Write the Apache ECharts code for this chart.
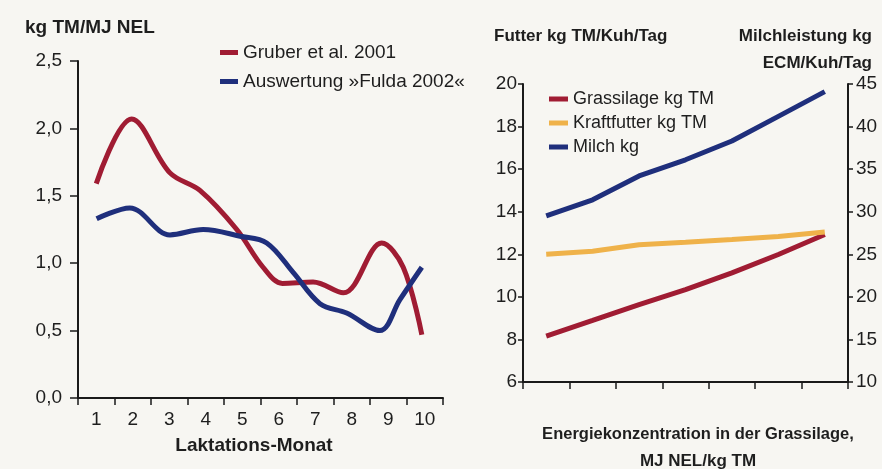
<!DOCTYPE html>
<html>
<head>
<meta charset="utf-8">
<script src="https://cdn.jsdelivr.net/npm/echarts@6/dist/echarts.min.js"></script>
<style>
html,body{margin:0;padding:0;background:#f7f6f2;}
#c{width:882px;height:469px;}
</style>
</head>
<body>
<div id="c"></div>
<script>
// ---- Left chart data ----
const months = ['1','2','3','4','5','6','7','8','9','10'];
const gruberX = [1.0, 1.97, 3.02, 3.84, 4.85, 5.57, 6.1, 6.94, 7.77, 8.82, 9.41, 9.92];
const gruberY = [1.59, 2.07, 1.67, 1.54, 1.25, 0.97, 0.85, 0.86, 0.78, 1.15, 0.97, 0.47];
const fuldaX = [1.01, 1.92, 3.02, 3.93, 4.94, 5.67, 6.4, 7.13, 7.86, 8.77, 9.32, 9.92];
const fuldaY = [1.33, 1.41, 1.21, 1.25, 1.20, 1.15, 0.93, 0.70, 0.63, 0.50, 0.73, 0.97];
const leftTicks = [0, 0.5, 1.0, 1.5, 2.0, 2.5];

// ---- Right chart data ----
const energyCats = ['1','2','3','4','5','6','7'];
const grassilage = [8.15, 8.89, 9.64, 10.34, 11.13, 11.99, 12.93];
const kraftfutter = [12.0, 12.14, 12.45, 12.56, 12.69, 12.84, 13.05];
const milch = [29.5, 31.4, 34.2, 36.1, 38.3, 41.2, 44.1];

const F = '"Liberation Sans", Arial, sans-serif';
const RED = '#a01c33', BLUE = '#1f2f7c', YEL = '#efb24a', TXT = '#1e1e1e';

const chart = echarts.init(document.getElementById('c'));
const axLine = {show:true, lineStyle:{color:'#1a1a1a', width:2}};
const tick = (len) => ({show:true, length:len, lineStyle:{color:'#1a1a1a', width:1.5}});
const lbl = (extra) => Object.assign({color:TXT, fontFamily:F, fontSize:19}, extra||{});

chart.setOption({
  backgroundColor:'#f7f6f2',
  animation:false,
  title:[
    {text:'kg TM/MJ NEL', left:20, top:13, textStyle:{fontFamily:F, fontWeight:'bold', fontSize:19, color:TXT}},
    {text:'Futter kg TM/Kuh/Tag', left:489, top:23, textStyle:{fontFamily:F, fontWeight:'bold', fontSize:17, color:TXT}},
    {text:'Milchleistung kg', right:5, top:23, textStyle:{fontFamily:F, fontWeight:'bold', fontSize:17, color:TXT}},
    {text:'ECM/Kuh/Tag', right:5, top:50, textStyle:{fontFamily:F, fontWeight:'bold', fontSize:17, color:TXT}},
    {text:'Laktations-Monat', left:249, top:431, textAlign:'center', textStyle:{fontFamily:F, fontWeight:'bold', fontSize:19, color:TXT}},
    {text:'Energiekonzentration in der Grassilage,', left:693, top:421, textAlign:'center', textStyle:{fontFamily:F, fontWeight:'bold', fontSize:16.5, color:TXT}},
    {text:'MJ NEL/kg TM', left:693, top:448, textAlign:'center', textStyle:{fontFamily:F, fontWeight:'bold', fontSize:17, color:TXT}}
  ],
  legend:[
    {data:['Gruber et al. 2001','Auswertung »Fulda 2002«'], orient:'vertical', left:215, top:38, itemGap:10,
     icon:'rect', itemWidth:18, itemHeight:5, textStyle:{fontFamily:F, fontSize:19, color:TXT}},
    {data:['Grassilage kg TM','Kraftfutter kg TM','Milch kg'], orient:'vertical', left:544, top:85, itemGap:6,
     icon:'rect', itemWidth:19, itemHeight:5, textStyle:{fontFamily:F, fontSize:18, color:TXT}}
  ],
  grid:[
    {left:78, right:439, top:61, bottom:71},
    {left:523, right:34, top:84, bottom:87}
  ],
  xAxis:[
    {gridIndex:0, type:'category', data:months, boundaryGap:true, axisLine:axLine, axisTick:tick(7),
     axisLabel:lbl({margin:12}), splitLine:{show:false}},
    {gridIndex:0, type:'value', min:0.5, max:10.5, show:false},
    {gridIndex:1, type:'category', data:energyCats, boundaryGap:true, axisLine:axLine, axisTick:tick(7),
     axisLabel:{show:false}, splitLine:{show:false}}
  ],
  yAxis:[
    {gridIndex:0, type:'value', min:0, max:2.5, interval:0.5, axisLine:axLine, axisTick:tick(8),
     axisLabel:lbl({margin:16, formatter:(v)=>v.toFixed(1).replace('.',',')}), splitLine:{show:false}},
    {gridIndex:1, type:'value', min:6, max:20, interval:2, position:'left', axisLine:axLine, axisTick:tick(5),
     axisLabel:lbl({margin:6}), splitLine:{show:false}},
    {gridIndex:1, type:'value', min:10, max:45, interval:5, position:'right', axisLine:axLine, axisTick:tick(5),
     axisLabel:lbl({margin:8}), splitLine:{show:false}}
  ],
  series:[
    {name:'Gruber et al. 2001', type:'line', xAxisIndex:1, yAxisIndex:0, smooth:0.35, showSymbol:false,
     data:gruberX.map((x,i)=>[x,gruberY[i]]), lineStyle:{color:RED, width:5}, itemStyle:{color:RED}},
    {name:'Auswertung »Fulda 2002«', type:'line', xAxisIndex:1, yAxisIndex:0, smooth:0.35, showSymbol:false,
     data:fuldaX.map((x,i)=>[x,fuldaY[i]]), lineStyle:{color:BLUE, width:5}, itemStyle:{color:BLUE}},
    {name:'Grassilage kg TM', type:'line', xAxisIndex:2, yAxisIndex:1, showSymbol:false,
     data:grassilage, lineStyle:{color:RED, width:5}, itemStyle:{color:RED}},
    {name:'Kraftfutter kg TM', type:'line', xAxisIndex:2, yAxisIndex:1, showSymbol:false,
     data:kraftfutter, lineStyle:{color:YEL, width:5}, itemStyle:{color:YEL}},
    {name:'Milch kg', type:'line', xAxisIndex:2, yAxisIndex:2, showSymbol:false,
     data:milch, lineStyle:{color:BLUE, width:5}, itemStyle:{color:BLUE}}
  ]
});
</script>
</body>
</html>
